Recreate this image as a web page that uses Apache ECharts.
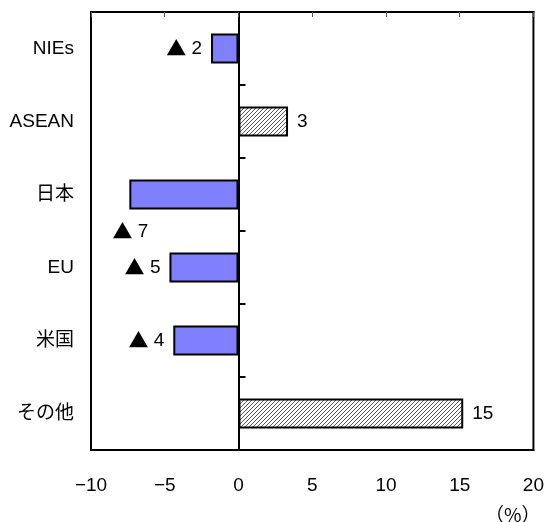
<!DOCTYPE html>
<html>
<head>
<meta charset="utf-8">
<script src="https://cdn.jsdelivr.net/npm/echarts@6/dist/echarts.min.js"></script>
<style>html,body{margin:0;padding:0;background:#fff}#c{width:547px;height:522px}</style>
</head>
<body>
<div id="c"></div>
<script>
const categories = ['NIEs', 'ASEAN', '日本', 'EU', '米国', 'その他'];
const values = [-1.86, 3.36, -7.4, -4.68, -4.42, 15.24];
const xTicks = { min: -10, max: 20, interval: 5 };
const unitLabel = '（%）';

const FONT = '"Liberation Sans", "Noto Sans CJK JP", sans-serif';
const CJK = '"Noto Sans CJK JP", sans-serif';

// hatch pattern for positive bars
const pc = document.createElement('canvas');
pc.width = 4; pc.height = 4;
const g = pc.getContext('2d');
g.fillStyle = '#fff'; g.fillRect(0, 0, 4, 4);
g.strokeStyle = '#555'; g.lineWidth = 1;
g.beginPath();
g.moveTo(0, 4); g.lineTo(4, 0);
g.moveTo(-1, 1); g.lineTo(1, -1);
g.moveTo(3, 5); g.lineTo(5, 3);
g.stroke();
const hatch = { image: pc, repeat: 'repeat' };

const data = values.map((v, i) => {
  const item = {
    value: v,
    itemStyle: { color: v < 0 ? '#8080FF' : hatch, borderColor: '#000', borderWidth: 2 },
    label: { position: v < 0 ? 'left' : 'right' }
  };
  if (categories[i] === '日本') {
    item.label = { position: 'left', offset: [28, 37] };
  }
  return item;
});

const chart = echarts.init(document.getElementById('c'), null, { renderer: 'canvas' });
chart.setOption({
  animation: false,
  backgroundColor: '#fff',
  grid: { left: 91, right: 11, top: 12, bottom: 72, show: true, borderColor: '#000', borderWidth: 2, containLabel: false },
  xAxis: [
    {
      type: 'value', position: 'bottom', min: xTicks.min, max: xTicks.max, interval: xTicks.interval,
      axisLine: { show: true, onZero: false, lineStyle: { color: '#000', width: 2 } },
      axisTick: { show: false },
      splitLine: { show: false },
      axisLabel: { color: '#000', fontSize: 19, fontFamily: FONT, margin: 26,
        formatter: v => String(v).replace('-', '−') }
    },
    {
      type: 'value', position: 'top', min: xTicks.min, max: xTicks.max, interval: xTicks.interval,
      axisLine: { show: true, onZero: false, lineStyle: { color: '#000', width: 2 } },
      axisTick: { show: true, inside: true, length: 5, lineStyle: { color: '#555', width: 1 } },
      splitLine: { show: false },
      axisLabel: { show: false }
    }
  ],
  yAxis: [
    {
      type: 'category', data: categories, inverse: true, position: 'left',
      axisLine: { show: false, onZero: false },
      axisTick: { show: false },
      axisLabel: { color: '#000', fontSize: 19, fontFamily: FONT, margin: 17 }
    },
    {
      type: 'category', data: categories, inverse: true, position: 'left',
      axisLine: { show: true, onZero: true, lineStyle: { color: '#000', width: 2 } },
      axisTick: { show: true, inside: true, length: 7, lineStyle: { color: '#000', width: 2 } },
      axisLabel: { show: false }
    }
  ],
  series: [{
    type: 'bar', xAxisIndex: 0, yAxisIndex: 0, barWidth: 30, data: data,
    label: {
      show: true, distance: 9, color: '#000', fontSize: 19, fontFamily: FONT,
      formatter: p => (p.value < 0 ? '{t|▲} ' : '') + Math.round(Math.abs(p.value)),
      rich: { t: { fontFamily: CJK, fontSize: 20, color: '#000' } }
    }
  }],
  graphic: [{
    type: 'text', left: 485, top: 505,
    style: { text: unitLabel, fontSize: 19, fontFamily: CJK, fill: '#000' }
  }]
});
</script>
</body>
</html>
